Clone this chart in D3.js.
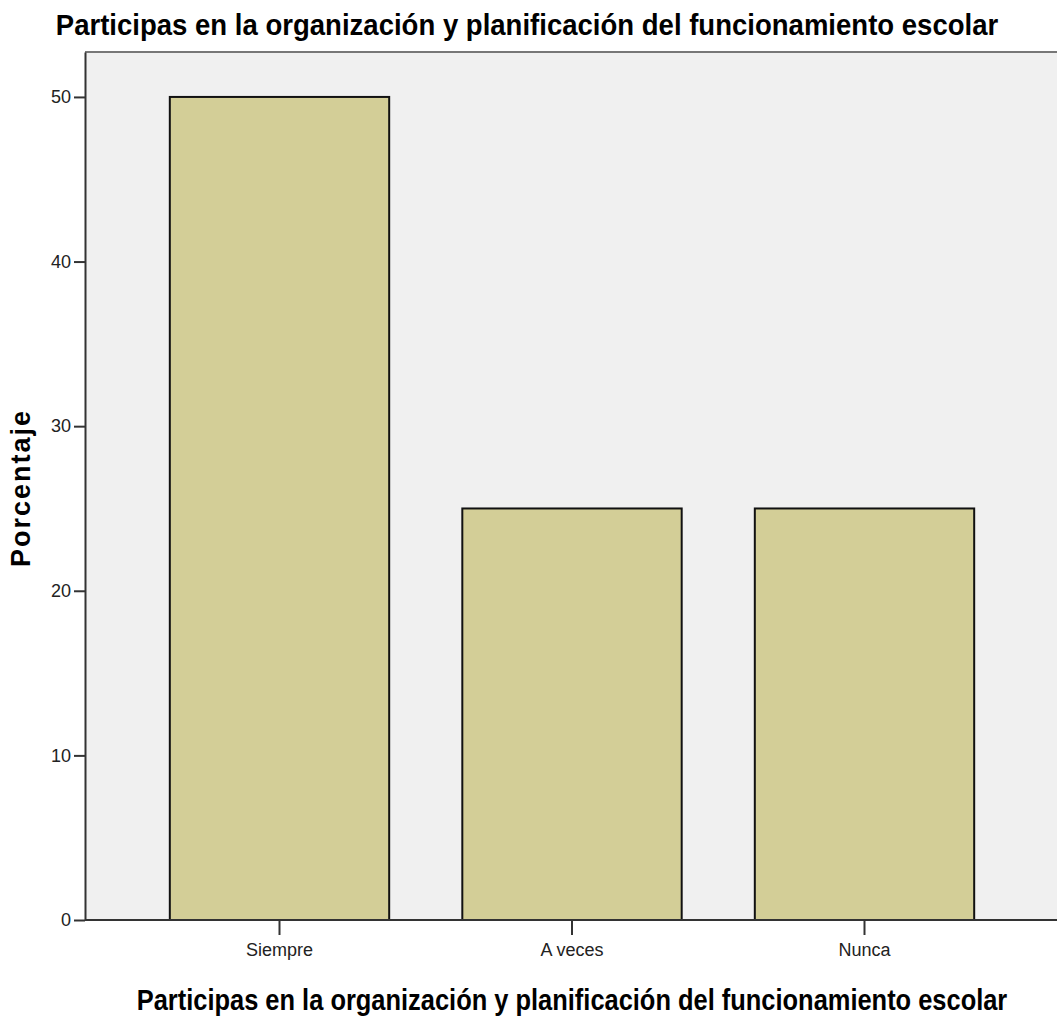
<!DOCTYPE html>
<html>
<head>
    <meta charset="utf-8">
    <title>Porcentaje</title>
    <style type="text/css">
    body { margin: 0; background: #fff; }
    svg text { fill: #000; }
    .tick text { font-family: "Liberation Sans", Arial, sans-serif; font-size: 18px; fill: #222; }
    </style>
</head>
<body>
    <script src="https://cdn.jsdelivr.net/npm/d3@7"></script>
    <script>
    var categories = ['Siempre', 'A veces', 'Nunca'];
    var porcentajes = [50, 25, 25];
    var yTicks = [0, 10, 20, 30, 40, 50];
    var titulo = 'Participas en la organización y planificación del funcionamiento escolar';
    var yTitulo = 'Porcentaje';

    var W = 1057, H = 1019,
        margin = { top: 52, left: 85, bottom: 99, right: -3 },
        w = W - margin.left - margin.right,
        h = H - margin.top - margin.bottom;

    var svg = d3.select('body').append('svg')
        .attr('width', W)
        .attr('height', H);

    var g = svg.append('g')
        .attr('transform', 'translate(' + margin.left + ',' + margin.top + ')');

    var yScale = d3.scaleLinear().domain([0, 52.73]).range([h, 0]);
    // bars sit a bit to the left of the plot's centre
    var xScale = d3.scaleBand().domain(categories).range([48.25, 925.75])
        .paddingInner(0.25).paddingOuter(0.125);

    // plot background
    g.append('rect')
        .attr('width', w).attr('height', h)
        .attr('fill', '#f0f0f0');
    g.append('line')
        .attr('x1', 0).attr('x2', w).attr('y1', 0).attr('y2', 0)
        .attr('stroke', '#777').attr('stroke-width', 2);

    g.selectAll('rect.bar')
        .data(porcentajes)
        .enter()
        .append('rect')
        .attr('class', 'bar')
        .attr('x', function(d, i) { return xScale(categories[i]); })
        .attr('y', function(d) { return yScale(d); })
        .attr('width', xScale.bandwidth())
        .attr('height', function(d) { return h - yScale(d); })
        .attr('fill', '#d3ce97')
        .attr('stroke', '#111')
        .attr('stroke-width', 2);

    g.append('g')
        .call(d3.axisLeft(yScale).tickValues(yTicks).tickSize(11).tickPadding(3).tickSizeOuter(0));
    var xAxis = g.append('g')
        .attr('transform', 'translate(0,' + h + ')')
        .call(d3.axisBottom(xScale).tickSize(15).tickPadding(8).tickSizeOuter(0));
    // bottom axis line runs across the whole plot
    xAxis.select('.domain').attr('d', 'M0,0H' + w);
    svg.selectAll('.domain, .tick line').attr('stroke', '#333').attr('stroke-width', 2);

    // squeeze a text horizontally so it spans the given width
    function fitText(sel, cx, cy, width) {
        var natural = sel.node().getComputedTextLength();
        sel.attr('text-anchor', 'middle')
            .attr('transform', 'translate(' + cx + ',' + cy + ') scale(' + (width / natural) + ',1)');
    }

    var t1 = svg.append('text')
        .style('font-family', '"Liberation Sans", Arial, sans-serif')
        .style('font-size', '30px')
        .style('font-weight', 'bold')
        .text(titulo);
    fitText(t1, 527, 35, 943);

    var t2 = svg.append('text')
        .style('font-family', '"Liberation Sans", Arial, sans-serif')
        .style('font-size', '29px')
        .style('font-weight', 'bold')
        .text(titulo);
    fitText(t2, 572, 1010, 871);

    svg.append('text')
        .attr('transform', 'translate(30,488) rotate(-90)')
        .attr('text-anchor', 'middle')
        .style('font-family', '"Liberation Sans", Arial, sans-serif')
        .style('font-size', '27px')
        .style('font-weight', 'bold')
        .style('letter-spacing', '2px')
        .text(yTitulo);
    </script>
</body>
</html>
